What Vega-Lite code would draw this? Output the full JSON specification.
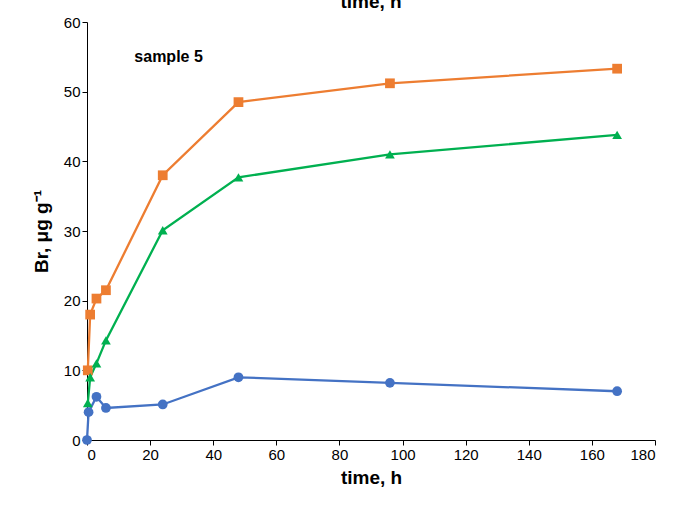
{
  "$schema": "https://vega.github.io/schema/vega-lite/v6.json",
  "width": 568,
  "height": 418,
  "autosize": "none",
  "padding": {"left": 87, "top": 22, "right": 20, "bottom": 67},
  "background": "white",
  "title": {"text": "time, h", "fontSize": 19, "font": "Liberation Sans", "fontWeight": "bold", "color": "black", "baseline": "bottom", "offset": 2, "dy": 18},
  "config": {
    "view": {"stroke": null},
    "axis": {"labelFont": "Liberation Sans", "labelFontSize": 15, "labelColor": "black", "titleFont": "Liberation Sans", "titleFontSize": 19, "titleFontWeight": "bold", "titleColor": "black", "domainColor": "black", "tickColor": "black", "grid": false, "tickSize": 5}
  },
  "data": {"values": [
    {"s": "a", "t": 0.25, "v": 10}, {"s": "a", "t": 1, "v": 18}, {"s": "a", "t": 3, "v": 20.3}, {"s": "a", "t": 6, "v": 21.5},
    {"s": "a", "t": 24, "v": 38}, {"s": "a", "t": 48, "v": 48.5}, {"s": "a", "t": 96, "v": 51.2}, {"s": "a", "t": 168, "v": 53.3},
    {"s": "b", "t": 0.25, "v": 5.3}, {"s": "b", "t": 1, "v": 9}, {"s": "b", "t": 3, "v": 11}, {"s": "b", "t": 6, "v": 14.3},
    {"s": "b", "t": 24, "v": 30.1}, {"s": "b", "t": 48, "v": 37.7}, {"s": "b", "t": 96, "v": 41}, {"s": "b", "t": 168, "v": 43.8},
    {"s": "c", "t": 0, "v": 0}, {"s": "c", "t": 0.5, "v": 4}, {"s": "c", "t": 3, "v": 6.2}, {"s": "c", "t": 6, "v": 4.6},
    {"s": "c", "t": 24, "v": 5.1}, {"s": "c", "t": 48, "v": 9}, {"s": "c", "t": 96, "v": 8.2}, {"s": "c", "t": 168, "v": 7}
  ]},
  "encoding": {
    "x": {"field": "t", "type": "quantitative", "title": "time, h", "scale": {"domain": [0, 180]}, "axis": {"values": [0,20,40,60,80,100,120,140,160,180], "titlePadding": 6}},
    "y": {"field": "v", "type": "quantitative", "title": "Br, μg g⁻¹", "scale": {"domain": [0, 60]}, "axis": {"values": [0,10,20,30,40,50,60], "titlePadding": 12}},
    "color": {"field": "s", "type": "nominal", "legend": null, "scale": {"domain": ["a","b","c"], "range": ["#ED7D31", "#00B050", "#4472C4"]}}
  },
  "layer": [
    {"mark": {"type": "line", "strokeWidth": 2.3}},
    {"mark": {"type": "point", "filled": true, "opacity": 1, "size": 95}, "encoding": {"shape": {"field": "s", "type": "nominal", "legend": null, "scale": {"domain": ["a","b","c"], "range": ["square", "triangle-up", "circle"]}}}},
    {"data": {"values": [{"t": 15, "v": 55, "label": "sample 5"}]}, "mark": {"type": "text", "fontSize": 16, "fontWeight": "bold", "font": "Liberation Sans", "align": "left", "color": "black"}, "encoding": {"text": {"field": "label"}, "color": {"value": "black"}}}
  ]
}
